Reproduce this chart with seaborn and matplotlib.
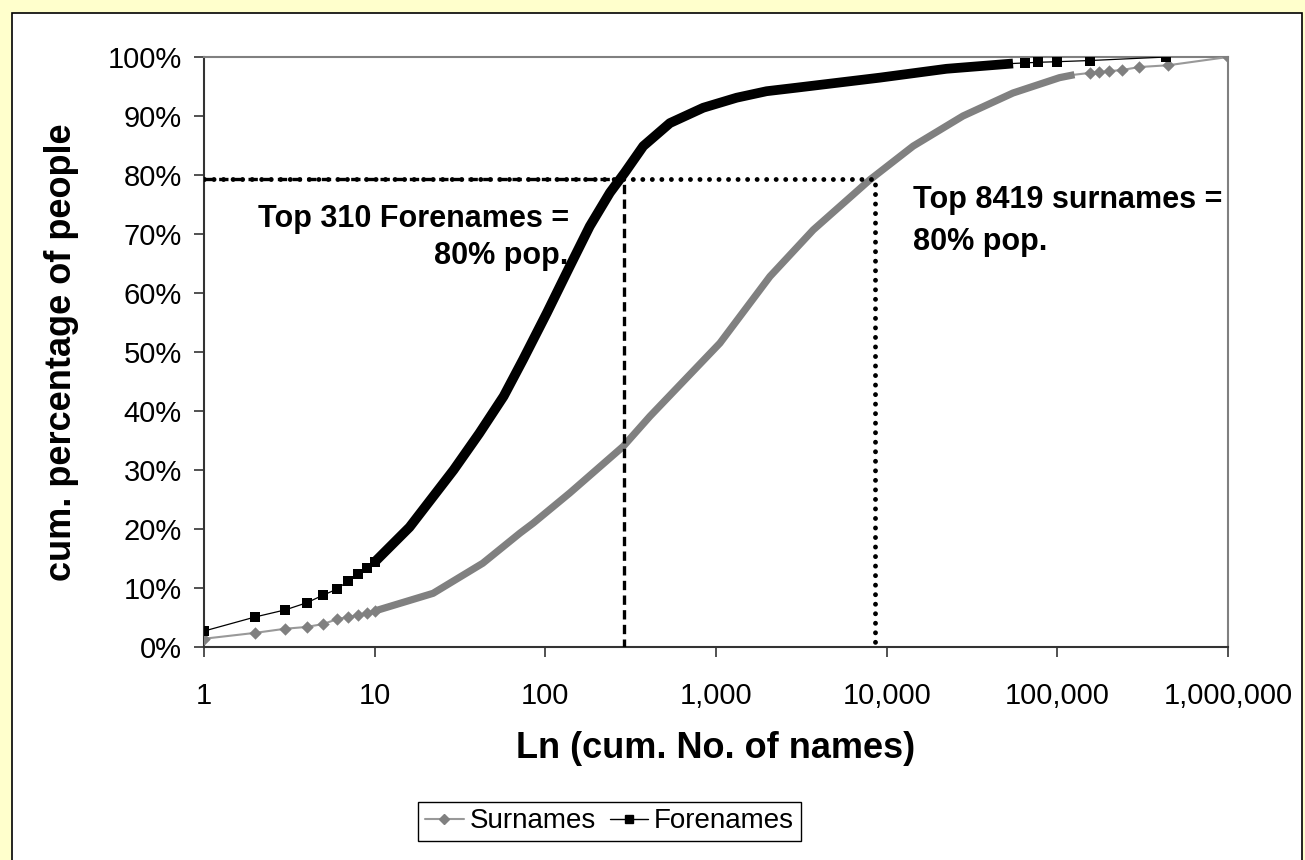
import matplotlib
matplotlib.use("Agg")
import matplotlib.pyplot as plt
from matplotlib.lines import Line2D
from matplotlib.patches import Rectangle
import seaborn as sns
import pandas as pd

# values (rank, cumulative %)
forename_low_rank = [1, 2, 3, 4, 5, 6, 7, 8, 9, 10]
forename_low_pct = [2.7, 5.1, 6.3, 7.5, 8.8, 9.8, 11.2, 12.4, 13.4, 14.4]
forename_band_rank = [10, 16, 29, 41, 57, 74, 102, 139, 182, 239, 292, 375, 537, 842,
                      1321, 1978, 2966, 9120, 22400, 55000]
forename_band_pct = [14.4, 20.3, 30.0, 36.2, 42.5, 48.7, 56.6, 64.5, 71.3, 77.0, 80.4,
                     84.9, 88.8, 91.4, 93.1, 94.2, 94.8, 96.5, 98.0, 98.9]
forename_tail_rank = [64500, 77000, 99000, 155000, 436000]
forename_tail_pct = [99.0, 99.1, 99.2, 99.4, 100.0]

surname_low_rank = [1, 2, 3, 4, 5, 6, 7, 8, 9, 10]
surname_low_pct = [1.4, 2.4, 3.1, 3.4, 3.9, 4.7, 5.1, 5.4, 5.8, 6.1]
surname_band_rank = [10, 22, 43, 71, 85, 139, 286, 410, 1054, 2070, 3715, 7980, 14300,
                     28000, 55000, 103000, 126000]
surname_band_pct = [6.1, 9.1, 14.2, 19.3, 21.0, 26.1, 34.0, 39.1, 51.5, 62.8, 70.7,
                    79.2, 84.9, 90.0, 93.9, 96.5, 97.0]
surname_tail_rank = [155000, 175000, 200000, 240000, 302000, 446000, 1000000]
surname_tail_pct = [97.3, 97.4, 97.6, 97.8, 98.3, 98.6, 100.0]

cutoff_pct = 79.3
forename_cut = 290
surname_cut = 8500

x_ticks = [1, 10, 100, 1000, 10000, 100000, 1000000]
x_tick_labels = ["1", "10", "100", "1,000", "10,000", "100,000", "1,000,000"]
y_ticks = [0, 10, 20, 30, 40, 50, 60, 70, 80, 90, 100]
y_tick_labels = ["0%", "10%", "20%", "30%", "40%", "50%", "60%", "70%", "80%", "90%", "100%"]

sns.set_theme(style="ticks")
plt.rcParams['font.family'] = ['Liberation Sans', 'DejaVu Sans']
plt.rcParams['text.color'] = 'black'
plt.rcParams['axes.labelcolor'] = 'black'

SUR = "#808080"
SUR_LINE = "#999999"
FORE = "black"


def series(low_r, low_p, band_r, band_p, tail_r, tail_p):
    full = pd.DataFrame({"rank": low_r + band_r + tail_r, "pct": low_p + band_p + tail_p})
    full = full.drop_duplicates("rank").sort_values("rank")
    band = pd.DataFrame({"rank": band_r, "pct": band_p})
    marks = pd.DataFrame({"rank": low_r + tail_r, "pct": low_p + tail_p})
    return full, band, marks


sur_full, sur_band, sur_marks = series(surname_low_rank, surname_low_pct, surname_band_rank,
                                       surname_band_pct, surname_tail_rank, surname_tail_pct)
for_full, for_band, for_marks = series(forename_low_rank, forename_low_pct, forename_band_rank,
                                       forename_band_pct, forename_tail_rank, forename_tail_pct)

fig = plt.figure(figsize=(13.05, 8.6), dpi=100)
fig.patch.set_facecolor("#FFFFCC")
fig.patches.append(Rectangle((12 / 1305, -0.05), 1290 / 1305, 1.05 - 13 / 860,
                             transform=fig.transFigure, facecolor="white",
                             edgecolor="black", linewidth=1.2, zorder=-5))

ax = fig.add_axes([204 / 1305, 1 - 647 / 860, 1024 / 1305, 590 / 860])
ax.set_zorder(2)
ax.set_facecolor("white")

# surnames
sns.lineplot(data=sur_full, x="rank", y="pct", ax=ax, color=SUR_LINE, linewidth=1.5,
             estimator=None, zorder=3)
sns.lineplot(data=sur_band, x="rank", y="pct", ax=ax, color=SUR, linewidth=5.2,
             estimator=None, zorder=3, solid_capstyle="butt", solid_joinstyle="round")
sns.scatterplot(data=sur_marks, x="rank", y="pct", ax=ax, color=SUR, marker="D", s=40,
                linewidth=0, zorder=4)

# forenames
sns.lineplot(data=for_full, x="rank", y="pct", ax=ax, color=FORE, linewidth=0.9,
             estimator=None, zorder=5)
sns.lineplot(data=for_band, x="rank", y="pct", ax=ax, color=FORE, linewidth=7,
             estimator=None, zorder=5, solid_capstyle="butt", solid_joinstyle="round")
sns.scatterplot(data=for_marks, x="rank", y="pct", ax=ax, color=FORE, marker="s", s=60,
                linewidth=0, zorder=6)

# 80% guide lines
ax.plot([1, surname_cut, surname_cut], [cutoff_pct, cutoff_pct, 0], color="black",
        linewidth=3.5, linestyle=(0, (0.01, 1.95)), dash_capstyle="round", zorder=7)
ax.plot([1, forename_cut, forename_cut], [cutoff_pct, cutoff_pct, 0], color="black",
        linewidth=2.4, linestyle=(0, (2.8, 1.6)), zorder=7)

ax.text(137, 72.6, "Top 310 Forenames =", ha="right", va="center", fontsize=22,
        fontweight="bold", zorder=8)
ax.text(137, 66.2, "80% pop.", ha="right", va="center", fontsize=22,
        fontweight="bold", zorder=8)
ax.text(14200, 75.7, "Top 8419 surnames =", ha="left", va="center", fontsize=22,
        fontweight="bold", zorder=8)
ax.text(14200, 68.7, "80% pop.", ha="left", va="center", fontsize=22,
        fontweight="bold", zorder=8)

ax.set_xscale("log")
ax.set_xlim(1, 1000000)
ax.set_ylim(0, 100)
ax.set_xticks(x_ticks)
ax.set_xticklabels(x_tick_labels)
ax.xaxis.set_minor_locator(matplotlib.ticker.NullLocator())
ax.set_yticks(y_ticks)
ax.set_yticklabels(y_tick_labels)
ax.tick_params(axis="both", direction="out", length=7, width=1.2, color="#333333",
               labelsize=21, labelcolor="black")
ax.tick_params(axis="y", pad=9)
ax.tick_params(axis="x", pad=18)

for side in ["top", "right"]:
    ax.spines[side].set_visible(True)
    ax.spines[side].set_color("#808080")
    ax.spines[side].set_linewidth(1.5)
for side in ["left", "bottom"]:
    ax.spines[side].set_color("#333333")
    ax.spines[side].set_linewidth(1.5)

ax.set_xlabel("Ln (cum. No. of names)", fontsize=26, fontweight="bold")
ax.set_ylabel("cum. percentage of people", fontsize=26, fontweight="bold")
ax.xaxis.set_label_coords(0.5, -(748 - 647) / 590)
ax.xaxis.label.set_va("center")
ax.yaxis.set_label_coords(-(204 - 62) / 1024, 0.5)
ax.yaxis.label.set_va("center")

handles = [
    Line2D([0], [0], color=SUR_LINE, linewidth=1.5, marker="D", markersize=5,
           markerfacecolor=SUR, markeredgecolor=SUR),
    Line2D([0], [0], color=FORE, linewidth=1.0, marker="s", markersize=6,
           markerfacecolor=FORE, markeredgecolor=FORE),
]
leg = fig.legend(handles, ["Surnames", "Forenames"], loc="center",
                 bbox_to_anchor=(609.5 / 1305, 1 - 821.5 / 860), ncol=2, fontsize=20,
                 frameon=True, fancybox=False, edgecolor="black", framealpha=1,
                 handlelength=1.4, handletextpad=0.2, columnspacing=0.5,
                 borderpad=0.25, borderaxespad=0)
leg.get_frame().set_linewidth(1.0)
for t in leg.get_texts():
    t.set_color("black")

fig.savefig("out.png", dpi=100, facecolor=fig.get_facecolor())
